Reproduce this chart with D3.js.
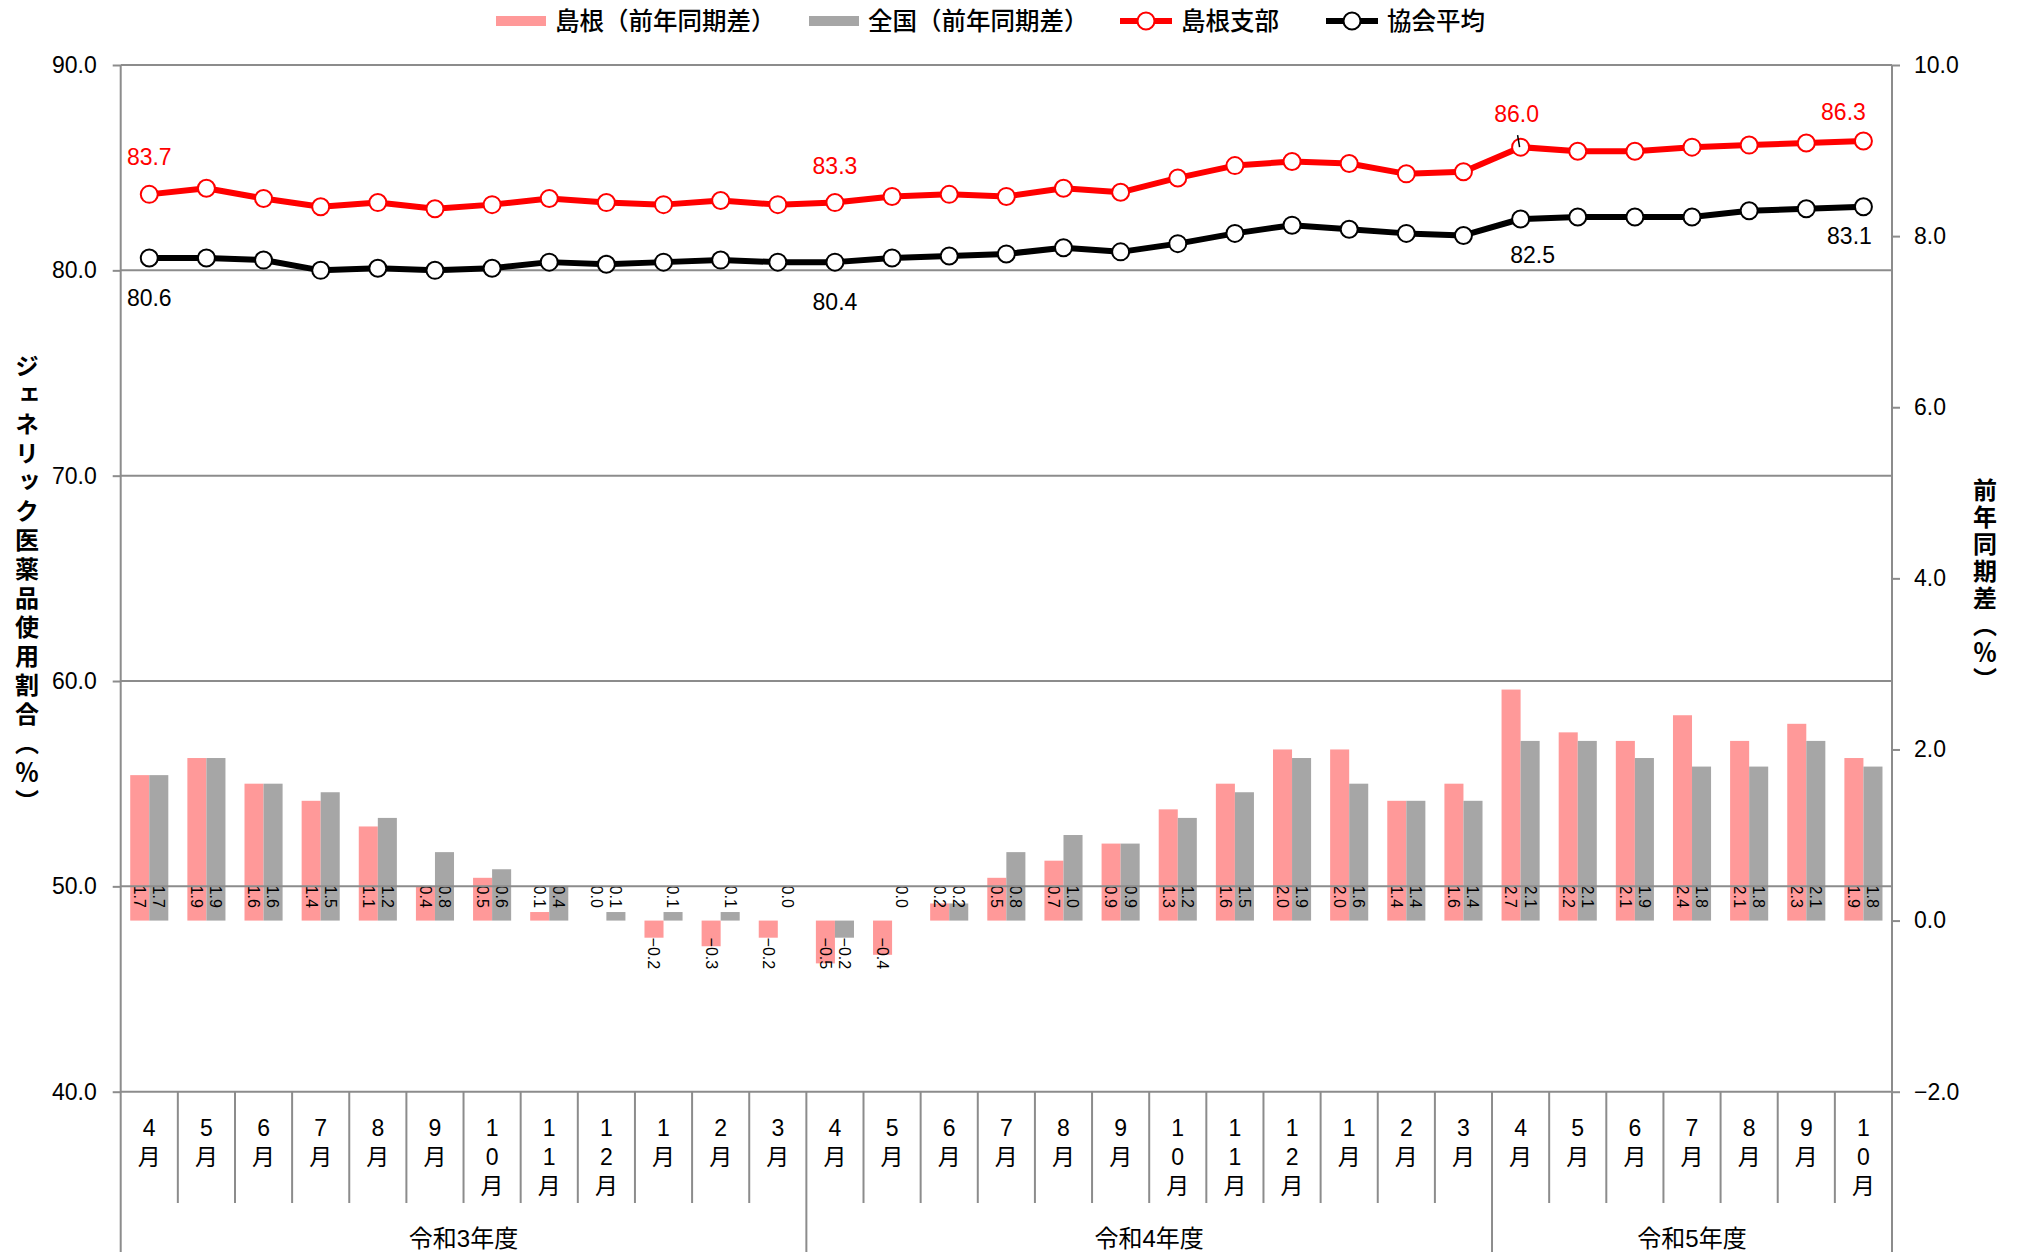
<!DOCTYPE html>
<html>
<head>
<meta charset="utf-8">
<script src="https://cdn.jsdelivr.net/npm/d3@7"></script>
<style>
  html, body { margin: 0; padding: 0; background: #fff; }
  svg { display: block; font-family: "Liberation Sans", "Noto Sans CJK JP", sans-serif; }
</style>
</head>
<body>
<svg id="chart"></svg>
<script>
// categories
const fiscalYears = ["令和3年度", "令和4年度", "令和5年度"];
const monthsPerYear = [12, 12, 7];
const monthNames = ["4月", "5月", "6月", "7月", "8月", "9月", "10月", "11月", "12月", "1月", "2月", "3月"];

// series
const shimaneRate = [83.7, 84.0, 83.5, 83.1, 83.3, 83.0, 83.2, 83.5, 83.3, 83.2, 83.4, 83.2,
                     83.3, 83.6, 83.7, 83.6, 84.0, 83.8, 84.5, 85.1, 85.3, 85.2, 84.7, 84.8,
                     86.0, 85.8, 85.8, 86.0, 86.1, 86.2, 86.3];
const kyokaiRate = [80.6, 80.6, 80.5, 80.0, 80.1, 80.0, 80.1, 80.4, 80.3, 80.4, 80.5, 80.4,
                    80.4, 80.6, 80.7, 80.8, 81.1, 80.9, 81.3, 81.8, 82.2, 82.0, 81.8, 81.7,
                    82.5, 82.6, 82.6, 82.6, 82.9, 83.0, 83.1];
const shimaneDiff = [1.7, 1.9, 1.6, 1.4, 1.1, 0.4, 0.5, 0.1, 0.0, -0.2, -0.3, -0.2,
                     -0.5, -0.4, 0.2, 0.5, 0.7, 0.9, 1.3, 1.6, 2.0, 2.0, 1.4, 1.6,
                     2.7, 2.2, 2.1, 2.4, 2.1, 2.3, 1.9];
const zenkokuDiff = [1.7, 1.9, 1.6, 1.5, 1.2, 0.8, 0.6, 0.4, 0.1, 0.1, 0.1, 0.0,
                     -0.2, 0.0, 0.2, 0.8, 1.0, 0.9, 1.2, 1.5, 1.9, 1.6, 1.4, 1.4,
                     2.1, 2.1, 1.9, 1.8, 1.8, 2.1, 1.8];

// axes
const leftTicks = [40, 50, 60, 70, 80, 90];
const rightTicks = [-2, 0, 2, 4, 6, 8, 10];
const leftTitle = "ジェネリック医薬品使用割合（％）";
const rightTitle = "前年同期差（％）";

// legend
const legendNames = ["島根（前年同期差）", "全国（前年同期差）", "島根支部", "協会平均"];

// points with value labels
const labeledIdx = [0, 12, 24, 30];


const width = 2017;
const height = 1252;
const plotLeft = 120.7, plotRight = 1892, plotTop = 65, plotBottom = 1091.7;
const monthRowBottom = 1203;

const PINK = "#ff9999", GRAY = "#a6a6a6", RED = "#ff0000", BLACK = "#000000";
const LINE_GRAY = "#8c8c8c";

const categories = [];
fiscalYears.forEach((fy, i) => {
  for (let m = 0; m < monthsPerYear[i]; m++) {
    categories.push({ key: fy + "-" + monthNames[m], year: fy, month: monthNames[m] });
  }
});
const rows = categories.map((c, i) => Object.assign({}, c, {
  i: i,
  shimane: shimaneRate[i],
  kyokai: kyokaiRate[i],
  sDiff: shimaneDiff[i],
  zDiff: zenkokuDiff[i]
}));

const svg = d3.select("#chart").attr("width", width).attr("height", height);

const x = d3.scaleBand()
  .domain(categories.map(d => d.key))
  .range([plotLeft, plotRight])
  .paddingInner(0).paddingOuter(0);
const bw = x.bandwidth();
const xSub = d3.scaleBand()
  .domain(["shimane", "zenkoku"])
  .range([0, bw])
  .paddingInner(0).paddingOuter(0.5);

const yL = d3.scaleLinear().domain([40, 90]).range([plotBottom, plotTop]);
const yR = d3.scaleLinear().domain([-2, 10]).range([plotBottom, plotTop]);
const cx = d => x(d.key) + bw / 2;
const fmt = d3.format(".1f");

// bars (前年同期差)
const barSeries = [
  { name: "shimane", color: PINK, get: d => d.sDiff },
  { name: "zenkoku", color: GRAY, get: d => d.zDiff }
];
const barG = svg.append("g");
barSeries.forEach(s => {
  barG.selectAll(null)
    .data(rows)
    .join("rect")
    .attr("x", d => x(d.key) + xSub(s.name))
    .attr("width", xSub.bandwidth())
    .attr("y", d => Math.min(yR(s.get(d)), yR(0)))
    .attr("height", d => Math.abs(yR(s.get(d)) - yR(0)))
    .attr("fill", s.color);
});

// gridlines
svg.append("g")
  .selectAll("line")
  .data(leftTicks.filter(d => d > 40))
  .join("line")
  .attr("x1", plotLeft).attr("x2", plotRight)
  .attr("y1", d => yL(d)).attr("y2", d => yL(d))
  .attr("stroke", LINE_GRAY).attr("stroke-width", 2);

// category axis line
svg.append("line")
  .attr("x1", plotLeft).attr("x2", plotRight)
  .attr("y1", plotBottom).attr("y2", plotBottom)
  .attr("stroke", LINE_GRAY).attr("stroke-width", 2);

// bar labels
barSeries.forEach(s => {
  barG.selectAll(null)
    .data(rows)
    .join("text")
    .attr("transform", d => {
      const v = s.get(d);
      const yy = v >= 0 ? yR(0) - 35 : yR(0) + 17;
      return `translate(${x(d.key) + xSub(s.name) + xSub.bandwidth() / 2},${yy}) rotate(90)`;
    })
    .attr("dy", "0.35em")
    .attr("font-size", 16)
    .attr("fill", "#000")
    .text(d => fmt(s.get(d)));
});

// left axis
const axL = svg.append("g")
  .attr("transform", `translate(${plotLeft},0)`)
  .call(d3.axisLeft(yL).tickValues(leftTicks).tickFormat(fmt).tickSize(8).tickSizeOuter(0).tickPadding(16));
axL.select(".domain").remove();
axL.selectAll(".tick line").attr("stroke", LINE_GRAY).attr("stroke-width", 2);
axL.selectAll(".tick text").attr("font-size", 23).attr("fill", "#000").attr("font-family", "Liberation Sans");

// right axis
const axR = svg.append("g")
  .attr("transform", `translate(${plotRight},0)`)
  .call(d3.axisRight(yR).tickValues(rightTicks).tickFormat(fmt).tickSize(8).tickSizeOuter(0).tickPadding(14));
axR.select(".domain").remove();
axR.selectAll(".tick line").attr("stroke", LINE_GRAY).attr("stroke-width", 2);
axR.selectAll(".tick text").attr("font-size", 23).attr("fill", "#000").attr("font-family", "Liberation Sans");

// vertical axis lines
[plotLeft, plotRight].forEach(px => {
  svg.append("line")
    .attr("x1", px).attr("x2", px)
    .attr("y1", plotTop).attr("y2", height)
    .attr("stroke", LINE_GRAY).attr("stroke-width", 2);
});

// multi-level category axis
const yearBounds = [0];
monthsPerYear.forEach(n => yearBounds.push(yearBounds[yearBounds.length - 1] + n));
const sepG = svg.append("g");
d3.range(1, categories.length).forEach(i => {
  const px = plotLeft + i * bw;
  sepG.append("line")
    .attr("x1", px).attr("x2", px)
    .attr("y1", plotBottom)
    .attr("y2", yearBounds.includes(i) ? height : monthRowBottom)
    .attr("stroke", LINE_GRAY).attr("stroke-width", 2);
});

const monthG = svg.append("g").attr("font-size", 23).attr("fill", "#000");
monthG.selectAll("text")
  .data(rows)
  .join("text")
  .attr("text-anchor", "middle")
  .each(function(d) {
    const t = d3.select(this);
    Array.from(d.month).forEach((ch, k) => {
      t.append("tspan")
        .attr("x", cx(d))
        .attr("y", 1128 + k * 29)
        .attr("dy", "0.36em")
        .text(ch);
    });
  });

svg.append("g")
  .selectAll("text")
  .data(fiscalYears)
  .join("text")
  .attr("x", (d, i) => plotLeft + (yearBounds[i] + yearBounds[i + 1]) / 2 * bw)
  .attr("y", 1238)
  .attr("dy", "0.36em")
  .attr("text-anchor", "middle")
  .attr("font-size", 24)
  .attr("fill", "#000")
  .text(d => d);

// lines
const lineSeries = [
  { color: BLACK, get: d => d.kyokai },
  { color: RED, get: d => d.shimane }
];
lineSeries.forEach(s => {
  const line = d3.line().x(cx).y(d => yL(s.get(d)));
  svg.append("path")
    .datum(rows)
    .attr("d", line)
    .attr("fill", "none")
    .attr("stroke", s.color)
    .attr("stroke-width", 6)
    .attr("stroke-linejoin", "round");
  svg.append("g")
    .selectAll("circle")
    .data(rows)
    .join("circle")
    .attr("cx", cx)
    .attr("cy", d => yL(s.get(d)))
    .attr("r", 8.5)
    .attr("fill", "#fff")
    .attr("stroke", s.color)
    .attr("stroke-width", 2);
});

// line value labels
const redOffset = { 0: [0, -37], 12: [0, -37], 24: [-4, -33], 30: [-20, -29] };
const blackOffset = { 0: [0, 40], 12: [0, 40], 24: [12, 36], 30: [-14, 29] };
const lblG = svg.append("g").attr("font-size", 23).attr("text-anchor", "middle");
labeledIdx.forEach(i => {
  const d = rows[i];
  lblG.append("text")
    .attr("x", cx(d) + redOffset[i][0])
    .attr("y", yL(d.shimane) + redOffset[i][1])
    .attr("dy", "0.35em")
    .attr("fill", RED)
    .text(fmt(d.shimane));
  lblG.append("text")
    .attr("x", cx(d) + blackOffset[i][0])
    .attr("y", yL(d.kyokai) + blackOffset[i][1])
    .attr("dy", "0.35em")
    .attr("fill", BLACK)
    .text(fmt(d.kyokai));
});
// small leader line on 86.0
{
  const d = rows[24];
  svg.append("line")
    .attr("x1", cx(d) - 3).attr("y1", yL(d.shimane) - 12)
    .attr("x2", cx(d) - 1).attr("y2", yL(d.shimane))
    .attr("stroke", "#000").attr("stroke-width", 1.5);
}

// axis titles
svg.append("text")
  .attr("x", 27).attr("y", 354)
  .style("writing-mode", "vertical-rl")
  .attr("font-family", "Noto Sans CJK JP")
  .attr("font-weight", "bold")
  .attr("font-size", 24)
  .attr("letter-spacing", 5)
  .attr("fill", "#000")
  .text(leftTitle);
svg.append("text")
  .attr("x", 1985).attr("y", 478)
  .style("writing-mode", "vertical-rl")
  .attr("font-family", "Noto Sans CJK JP")
  .attr("font-weight", "bold")
  .attr("font-size", 24)
  .attr("letter-spacing", 3)
  .attr("fill", "#000")
  .text(rightTitle);

// legend
const legendX = [496, 809, 1120, 1326];
const legendY = 21;
const lg = svg.append("g");
legendNames.forEach((name, i) => {
  const g = lg.append("g").attr("transform", `translate(${legendX[i]},${legendY})`);
  let symW;
  if (i < 2) {
    symW = 50;
    g.append("rect").attr("x", 0).attr("y", -5).attr("width", symW).attr("height", 10)
      .attr("fill", i === 0 ? PINK : GRAY);
  } else {
    symW = 52;
    const c = i === 2 ? RED : BLACK;
    g.append("line").attr("x1", 0).attr("x2", symW).attr("y1", 0).attr("y2", 0)
      .attr("stroke", c).attr("stroke-width", 6);
    g.append("circle").attr("cx", symW / 2).attr("cy", 0).attr("r", 8.5)
      .attr("fill", "#fff").attr("stroke", c).attr("stroke-width", 2);
  }
  g.append("text")
    .attr("x", symW + 9)
    .attr("dy", "0.37em")
    .attr("font-family", "Noto Sans CJK JP")
    .attr("font-weight", 500)
    .attr("font-size", 24.5)
    .attr("fill", "#000")
    .text(name);
});
</script>
</body>
</html>
